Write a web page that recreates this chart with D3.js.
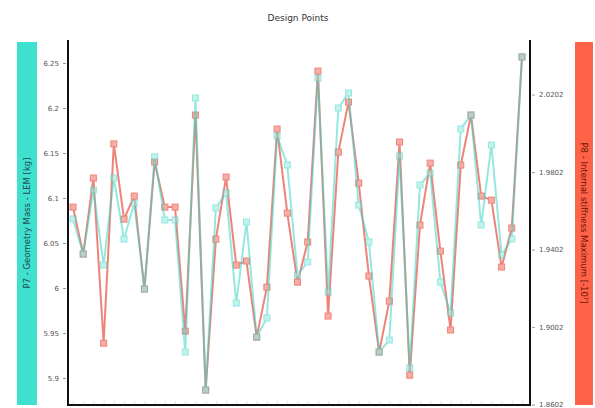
<!DOCTYPE html>
<html>
<head>
<meta charset="utf-8">
<script src="https://cdn.jsdelivr.net/npm/d3@7"></script>
<style>
  html, body { margin: 0; padding: 0; background: #fff; }
  svg { display: block; font-family: "DejaVu Sans", "Noto Sans", sans-serif; }
</style>
</head>
<body>
<svg id="chart" width="595" height="408"></svg>
<script>
// Design point index (x)
const designPoints = d3.range(45);

// P7 - Geometry Mass - LEM [kg] (left axis)
const massValues = [
  6.0767, 6.0378, 6.1089, 6.0256, 6.1222, 6.0544, 6.0944, 5.999, 6.1456, 6.0756,
  6.0756, 5.9289, 6.2111, 5.8867, 6.0889, 6.1056, 5.9833, 6.0733, 5.9456, 5.9667,
  6.1689, 6.1367, 6.0144, 6.0289, 6.2333, 5.9956, 6.2000, 6.2167, 6.0922, 6.0511,
  5.9289, 5.9422, 6.1467, 5.9111, 6.1144, 6.1278, 6.0067, 5.9722, 6.1767, 6.1922,
  6.0700, 6.1589, 6.0367, 6.0544, 6.2567
];

// P8 - Internal stiffness Maximum (right axis)
const stiffnessValues = [
  1.9621, 1.9379, 1.9771, 1.8919, 1.9947, 1.9559, 1.9678, 1.9198, 1.9854, 1.9621,
  1.9621, 1.8981, 2.0096, 1.8677, 1.9456, 1.9776, 1.9322, 1.9343, 1.8950, 1.9208,
  2.0024, 1.9590, 1.9234, 1.9441, 2.0323, 1.9059, 1.9905, 2.0163, 1.9745, 1.9265,
  1.8873, 1.9136, 1.9957, 1.8754, 1.9528, 1.9848, 1.9394, 1.8987, 1.9838, 2.0096,
  1.9678, 1.9657, 1.9312, 1.9513, 2.0396
];

const leftTicks = [5.9, 5.95, 6, 6.05, 6.1, 6.15, 6.2, 6.25];
const leftTickLabels = ["5.9", "5.95", "6", "6.05", "6.1", "6.15", "6.2", "6.25"];
const rightTicks = [1.8602, 1.9002, 1.9402, 1.9802, 2.0202];
const rightTickLabels = ["1.8602", "1.9002", "1.9402", "1.9802", "2.0202"];

const chartTitle = "Design Points";
const leftTitle = "P7 - Geometry Mass - LEM [kg]";
const rightTitle = "P8 - Internal stiffness Maximum [-10\u2077]";

const svg = d3.select("#chart");
const plot = { left: 68, right: 530, top: 40, bottom: 405 };

const x = d3.scaleLinear().domain([0, 44]).range([73, 522]);
const yL = d3.scaleLinear().domain([5.87, 6.27556]).range([plot.bottom, plot.top]);
const yR = d3.scaleLinear().domain([1.86, 2.04833]).range([plot.bottom, plot.top]);

// title
svg.append("text")
  .attr("x", 298).attr("y", 21)
  .attr("text-anchor", "middle")
  .attr("font-size", 9).attr("fill", "#333")
  .text(chartTitle);

// side title bands
const leftBand = svg.append("g");
leftBand.append("rect").attr("x", 17).attr("y", 42).attr("width", 20).attr("height", 363).attr("fill", "#40E0D0");
leftBand.append("text")
  .attr("transform", "translate(30,223) rotate(-90)")
  .attr("text-anchor", "middle").attr("font-size", 8.5).attr("fill", "#1d4f4a")
  .text(leftTitle);

const rightBand = svg.append("g");
rightBand.append("rect").attr("x", 575).attr("y", 42).attr("width", 18).attr("height", 363).attr("fill", "#FF6347");
rightBand.append("text")
  .attr("transform", "translate(581,223) rotate(90)")
  .attr("text-anchor", "middle").attr("font-size", 8.5).attr("fill", "#6e1208")
  .text(rightTitle);

// axes
const leftAxis = d3.axisLeft(yL).tickValues(leftTicks)
  .tickFormat((d, i) => leftTickLabels[i]).tickSize(3).tickPadding(4);
const gL = svg.append("g").attr("transform", `translate(${plot.left - 2},0)`).call(leftAxis);
gL.select(".domain").remove();
gL.selectAll(".tick line").attr("stroke", "#999");
gL.selectAll(".tick text").attr("font-size", 7).attr("fill", "#555").attr("font-family", "DejaVu Sans, sans-serif");

const rightAxis = d3.axisRight(yR).tickValues(rightTicks)
  .tickFormat((d, i) => rightTickLabels[i]).tickSize(3).tickPadding(4);
const gR = svg.append("g").attr("transform", `translate(${plot.right + 2},0)`).call(rightAxis);
gR.select(".domain").remove();
gR.selectAll(".tick line").attr("stroke", "#999");
gR.selectAll(".tick text").attr("font-size", 7).attr("fill", "#555").attr("font-family", "DejaVu Sans, sans-serif");

// faint ticks along the bottom
const bottomAxis = d3.axisBottom(x).tickValues(designPoints).tickSize(-3).tickFormat("");
const gB = svg.append("g").attr("transform", `translate(0,${plot.bottom - 1})`).call(bottomAxis);
gB.select(".domain").remove();
gB.selectAll(".tick line").attr("stroke", "#e4e4e4");

// axis frame lines
svg.append("line").attr("x1", plot.left).attr("x2", plot.left).attr("y1", plot.top).attr("y2", plot.bottom + 1)
  .attr("stroke", "#111").attr("stroke-width", 2);
svg.append("line").attr("x1", plot.right).attr("x2", plot.right).attr("y1", plot.top).attr("y2", plot.bottom + 1)
  .attr("stroke", "#111").attr("stroke-width", 2);
svg.append("line").attr("x1", plot.left).attr("x2", plot.right).attr("y1", plot.bottom).attr("y2", plot.bottom)
  .attr("stroke", "#111").attr("stroke-width", 2);

// series
function drawSeries(values, yScale, stroke, fill, opacity) {
  const g = svg.append("g").attr("opacity", opacity);
  g.append("path")
    .datum(values)
    .attr("fill", "none")
    .attr("stroke", stroke)
    .attr("stroke-width", 2)
    .attr("d", d3.line().x((d, i) => x(i)).y(d => yScale(d)));
  g.selectAll("rect")
    .data(values)
    .join("rect")
    .attr("x", (d, i) => x(i) - 3)
    .attr("y", d => yScale(d) - 3)
    .attr("width", 6).attr("height", 6)
    .attr("fill", fill)
    .attr("stroke", stroke)
    .attr("stroke-width", 1);
}

drawSeries(stiffnessValues, yR, "#ec6558", "#f39a8f", 0.8);
drawSeries(massValues, yL, "#3fd6c8", "#8fe8df", 0.55);
</script>
</body>
</html>
